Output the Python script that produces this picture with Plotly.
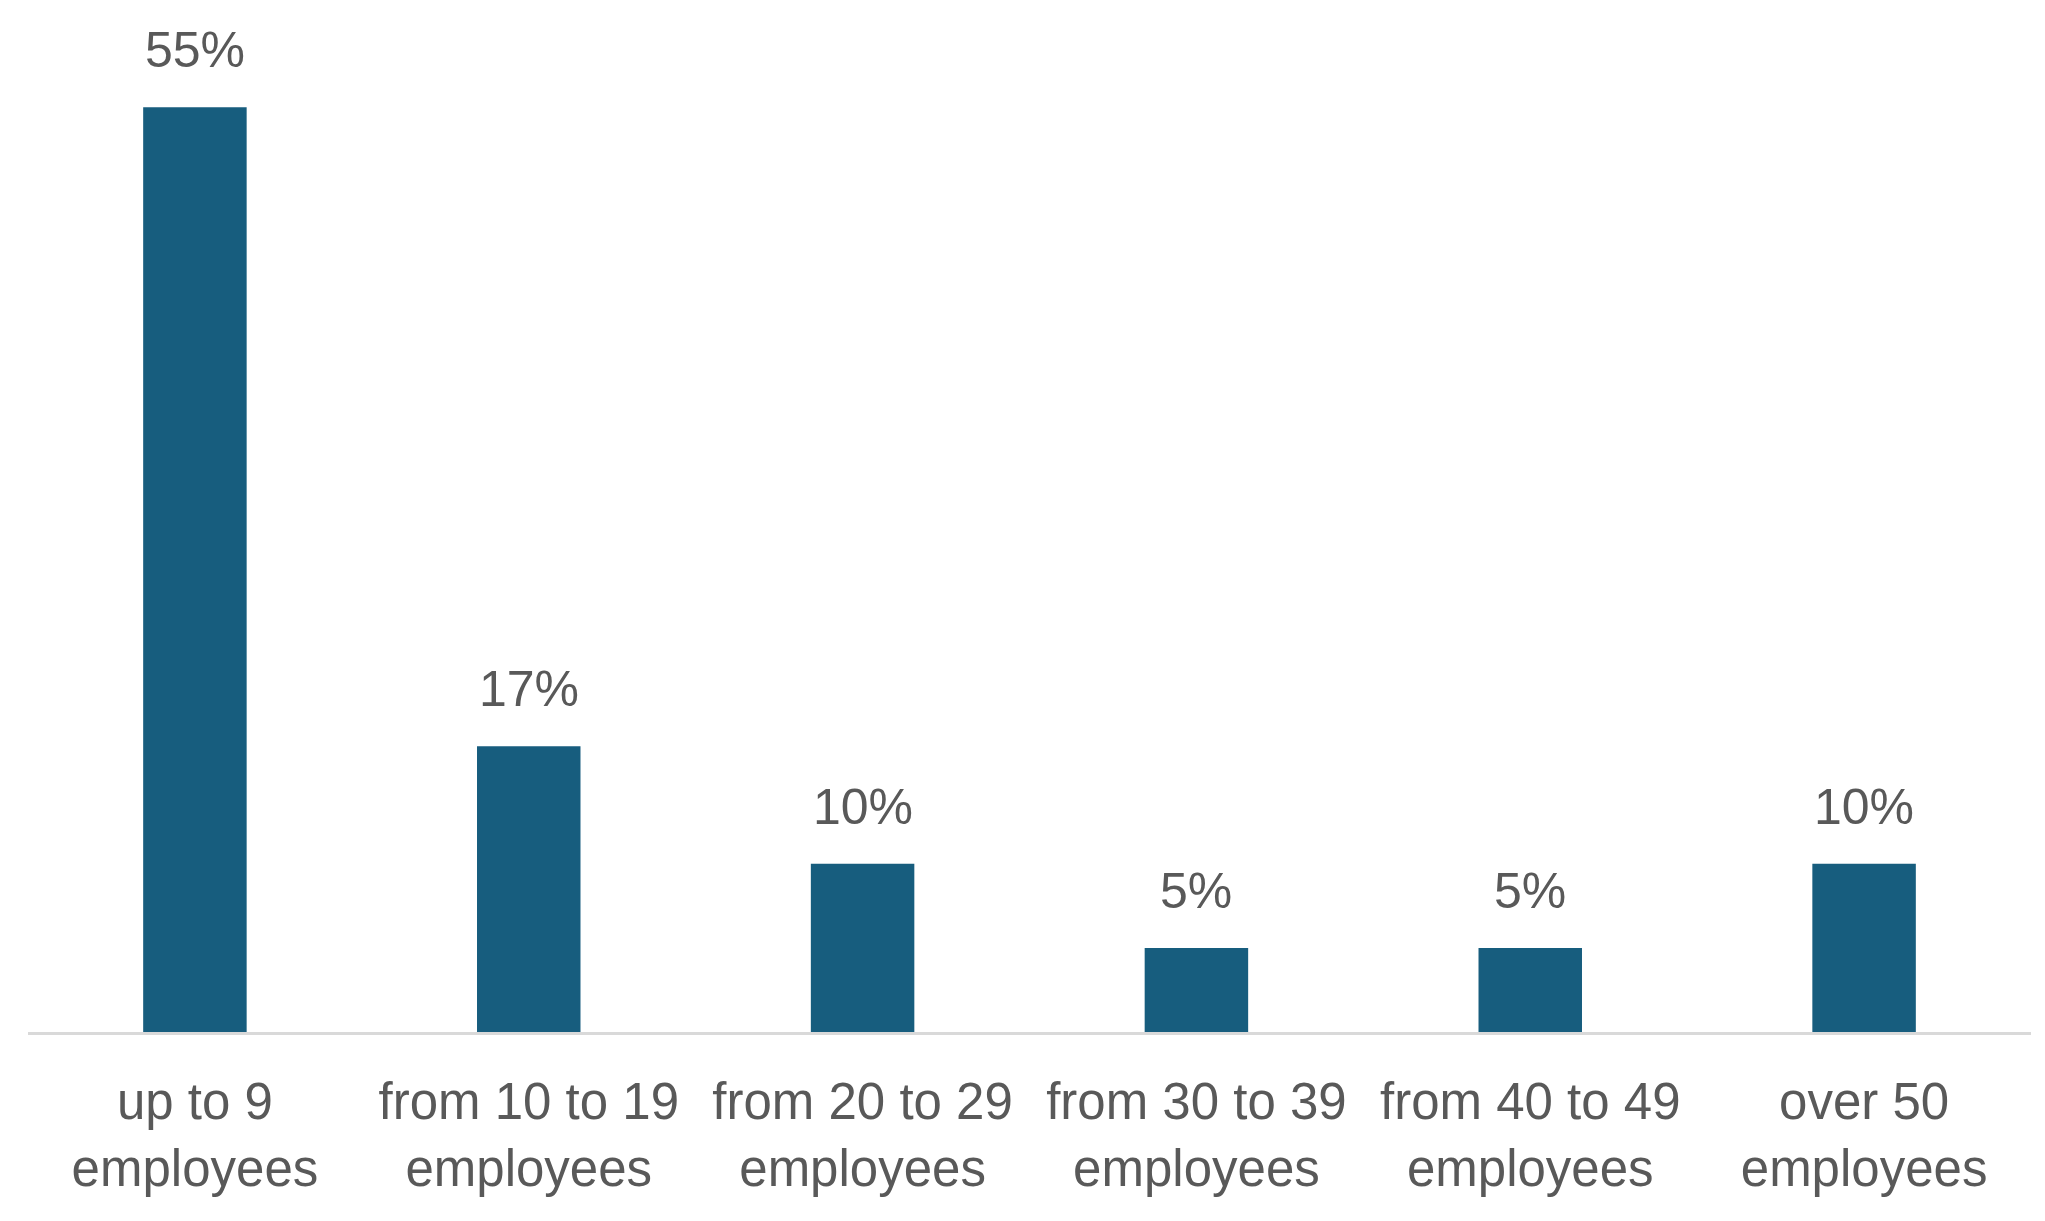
import plotly.graph_objects as go

categories = ["up to 9<br>employees", "from 10 to 19<br>employees", "from 20 to 29<br>employees",
              "from 30 to 39<br>employees", "from 40 to 49<br>employees", "over 50<br>employees"]
values = [55, 17, 10, 5, 5, 10]
labels = ["55%", "17%", "10%", "5%", "5%", "10%"]

BAR = "#175d7e"
TXT = "#595959"
FONT = "Liberation Sans, Arial, sans-serif"

fig = go.Figure()
fig.add_trace(go.Bar(x=categories, y=values, marker=dict(color=BAR, line=dict(width=0)),
                     width=0.31, hoverinfo="skip"))

for c, v, t in zip(categories, values, labels):
    fig.add_annotation(x=c, y=v, text=t, showarrow=False, yanchor="bottom", yshift=27,
                       font=dict(family=FONT, size=50, color=TXT))

fig.update_layout(
    width=2045, height=1221,
    margin=dict(l=20, r=22, t=32, b=197),
    paper_bgcolor="white", plot_bgcolor="white",
    showlegend=False,
)
fig.update_xaxes(showline=True, linecolor="#d9d9d9", linewidth=3, ticks="",
                 tickfont=dict(family=FONT, size=51, color=TXT), showgrid=False,
                 ticklabelstandoff=23)
fig.update_yaxes(range=[0, 59], visible=False, showgrid=False, zeroline=False)

fig.write_html("out.html")
